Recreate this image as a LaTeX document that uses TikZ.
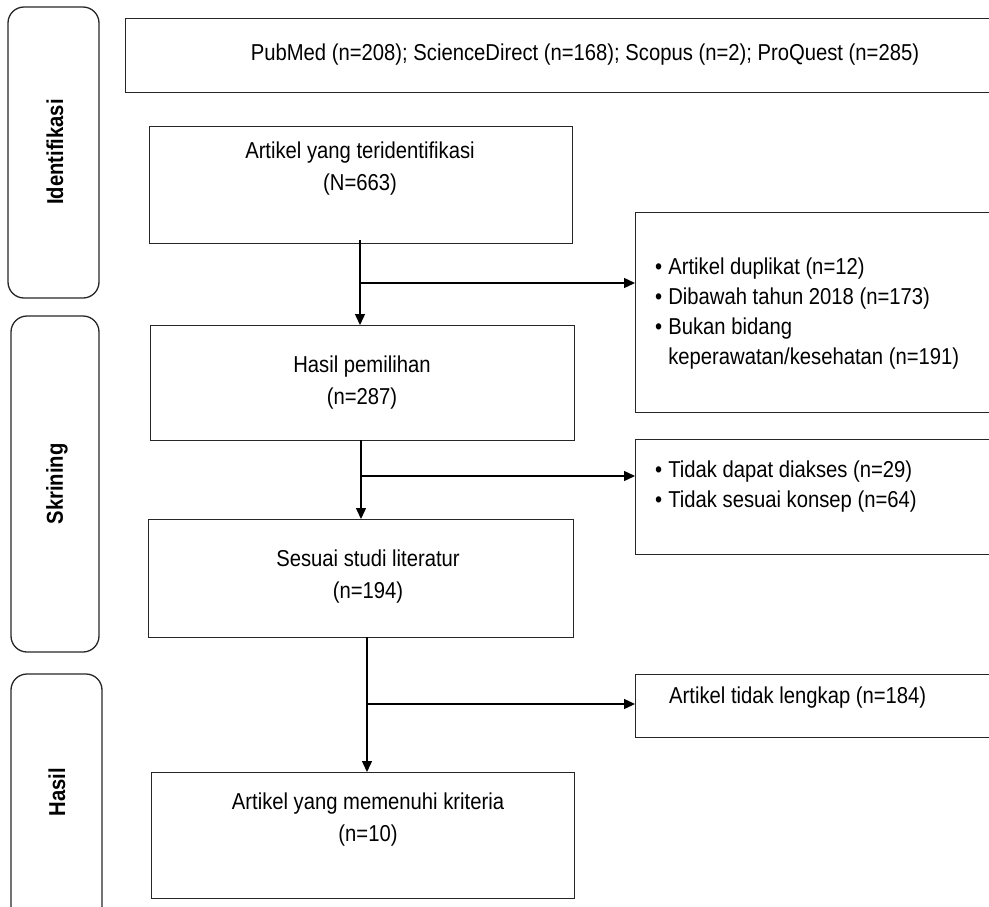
\documentclass[tikz,border=0pt]{standalone}
\usepackage{fontspec}
\setmainfont{Liberation Sans}[FakeStretch=0.88]
\usetikzlibrary{arrows.meta}
\tikzset{
  box/.style={draw=black!85, line width=1.3pt, inner sep=0pt, anchor=north west},
  side/.style={draw=black!85, line width=1.3pt, rounded corners=16pt},
  txt/.style={align=center, inner sep=0pt, font=\fontsize{23}{32}\selectfont},
  lst/.style={align=left, inner sep=0pt, anchor=west, font=\fontsize{23}{30}\selectfont},
  sidetxt/.style={rotate=90, inner sep=0pt, font=\bfseries\fontsize{23}{28}\selectfont},
  flow/.style={line width=1.4pt, -{Triangle[length=11pt,width=10pt]}},
  plain/.style={line width=1.4pt}
}
\begin{document}
\begin{tikzpicture}[x=1pt,y=-1pt]
\useasboundingbox (0,0) rectangle (989,906);
% side panels
\draw[side] (8,7) rectangle (99,298);
\draw[side] (11,316) rectangle (99,652);
\draw[side] (11,674) rectangle (102,930);
\node[sidetxt] (idfT) at (55,152) {Identifikasi};
\node[sidetxt] (skrT) at (57,484) {Skrining};
\node[sidetxt] (hasT) at (57,792) {Hasil};
% boxes
\node[box, minimum width=880pt, minimum height=74pt] (src) at (125,18) {};
\node[txt] (srcT) at (585,55) {PubMed (n=208); ScienceDirect (n=168); Scopus (n=2); ProQuest (n=285)};
\node[box, minimum width=423pt, minimum height=117pt] (idn) at (149,126) {};
\node[txt] (idnT) at (360,169) {Artikel yang teridentifikasi\\(N=663)};
\node[box, minimum width=424pt, minimum height=115pt] (sel) at (150,325) {};
\node[txt] (selT) at (362,383) {Hasil pemilihan\\(n=287)};
\node[box, minimum width=425pt, minimum height=118pt] (lit) at (148,519) {};
\node[txt] (litT) at (368,577) {Sesuai studi literatur\\(n=194)};
\node[box, minimum width=423pt, minimum height=126pt] (inc) at (151,772) {};
\node[txt] (incT) at (368,820) {Artikel yang memenuhi kriteria\\(n=10)};
% exclusion boxes
\node[box, minimum width=370pt, minimum height=200pt] (ex1) at (635,212) {};
\node[lst] (ex1T) at (655,313) {\begin{tabular}{@{}l@{\hspace{6pt}}l@{}}•&Artikel duplikat (n=12)\\ •&Dibawah tahun 2018 (n=173)\\ •&Bukan bidang\\ &keperawatan/kesehatan (n=191)\end{tabular}};
\node[box, minimum width=370pt, minimum height=115pt] (ex2) at (635,439) {};
\node[lst] (ex2T) at (655,486) {\begin{tabular}{@{}l@{\hspace{6pt}}l@{}}•&Tidak dapat diakses (n=29)\\ •&Tidak sesuai konsep (n=64)\end{tabular}};
\node[box, minimum width=370pt, minimum height=63pt] (ex3) at (635,674) {};
\node[lst] (ex3T) at (669,698) {Artikel tidak lengkap (n=184)};
% connectors
\coordinate (a1) at (360,240);
\coordinate (b1) at (360,283);
\coordinate (a2) at (361,440);
\coordinate (b2) at (361,476);
\coordinate (a3) at (367,637);
\coordinate (b3) at (367,704);
\draw[flow] (a1) -- (a1 |- sel.north);
\draw[flow] (b1) -- (ex1.west |- b1);
\draw[flow] (a2) -- (a2 |- lit.north);
\draw[flow] (b2) -- (ex2.west |- b2);
\draw[flow] (a3) -- (a3 |- inc.north);
\draw[flow] (b3) -- (ex3.west |- b3);
\end{tikzpicture}
\end{document}
